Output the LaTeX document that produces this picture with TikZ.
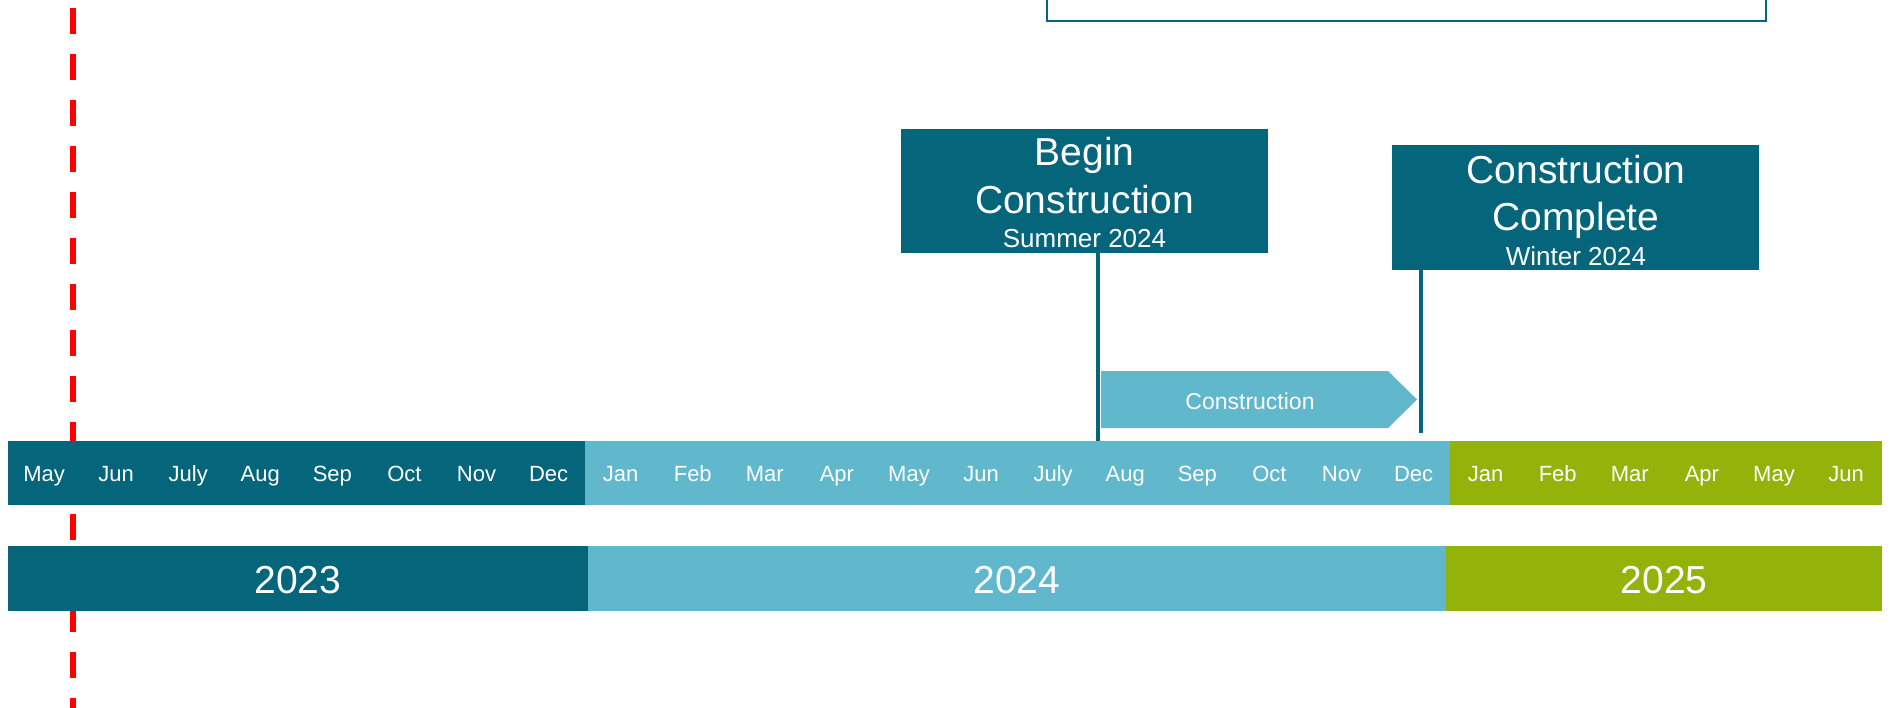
\documentclass[tikz,border=0pt]{standalone}
\usepackage{fontspec}
\setmainfont{Liberation Sans}
\definecolor{tealA}{HTML}{05657A}
\definecolor{skyA}{HTML}{61B7CC}
\definecolor{oliveA}{HTML}{93B30A}
\begin{document}
\begin{tikzpicture}[x=1pt,y=-1pt,
  monthlbl/.style={anchor=base,text=white,inner sep=0pt,font=\fontsize{22}{26}\selectfont},
  yearlbl/.style={anchor=base,text=white,inner sep=0pt,font=\fontsize{39}{46}\selectfont},
  bigtxt/.style={anchor=base,text=white,inner sep=0pt,font=\fontsize{39}{46}\selectfont},
  smalltxt/.style={anchor=base,text=white,inner sep=0pt,font=\fontsize{26}{30}\selectfont},
  flagbox/.style={fill=tealA,draw=none,inner sep=0pt,outer sep=0pt,minimum width=367pt},
  mline/.style={draw=tealA,line width=4.5pt},
]
\useasboundingbox (0,0) rectangle (1890,707);
\fill[white] (0,0) rectangle (1890,707);

% red dashed "today" line
\coordinate (redtop) at (73,8);
\coordinate (redbot) at (73,712);
\draw[red,line width=6pt,dash pattern=on 26pt off 20pt] (redtop) -- (redbot);

% top framed box (partly off picture)
\draw[tealA,line width=2.5pt,fill=white] (1047,-10) rectangle (1766,21);

% month bar
\fill[tealA]  (8,441) rectangle (584.6,505);
\fill[skyA]   (584.6,441) rectangle (1449.6,505);
\fill[oliveA] (1449.6,441) rectangle (1882,505);
\foreach \m [count=\i from 0] in {May,Jun,July,Aug,Sep,Oct,Nov,Dec,Jan,Feb,Mar,Apr,May,Jun,July,Aug,Sep,Oct,Nov,Dec,Jan,Feb,Mar,Apr,May,Jun}
  \node[monthlbl] (m\i) at ({8+72.08*(\i+0.5)},481) {\m};

% year bar
\fill[tealA]  (8,546) rectangle (588,611);
\fill[skyA]   (588,546) rectangle (1446,611);
\fill[oliveA] (1446,546) rectangle (1882,611);
\node[yearlbl] (y2023) at (298,593) {2023};
\node[yearlbl] (y2024) at (1017,593) {2024};
\node[yearlbl] (y2025) at (1664,593) {2025};

% construction arrow
\fill[skyA] (1101,371) -- (1388,371) -- (1417,399.5) -- (1388,428) -- (1101,428) -- cycle;
\node[anchor=base,text=white,inner sep=0pt,font=\fontsize{23}{27}\selectfont] (constr) at (1250,409) {Construction};

% milestone 1
\node[flagbox,minimum height=124pt] (b1) at (1084.5,191) {};
\node[bigtxt] (b1a) at (1084.5,165) {Begin};
\node[bigtxt] (b1b) at (1084.5,213) {Construction};
\node[smalltxt] (b1c) at (1084.5,247) {Summer 2024};
\coordinate (m1bot) at (1098,441);
\draw[mline] (b1.south -| m1bot) -- (m1bot);

% milestone 2
\node[flagbox,minimum height=125pt] (b2) at (1575.5,207.5) {};
\node[bigtxt] (b2a) at (1576,183) {Construction};
\node[bigtxt] (b2b) at (1576,230) {Complete};
\node[smalltxt] (b2c) at (1576,265) {Winter 2024};
\coordinate (m2bot) at (1421,433);
\draw[mline] (b2.south -| m2bot) -- (m2bot);
\end{tikzpicture}
\end{document}
